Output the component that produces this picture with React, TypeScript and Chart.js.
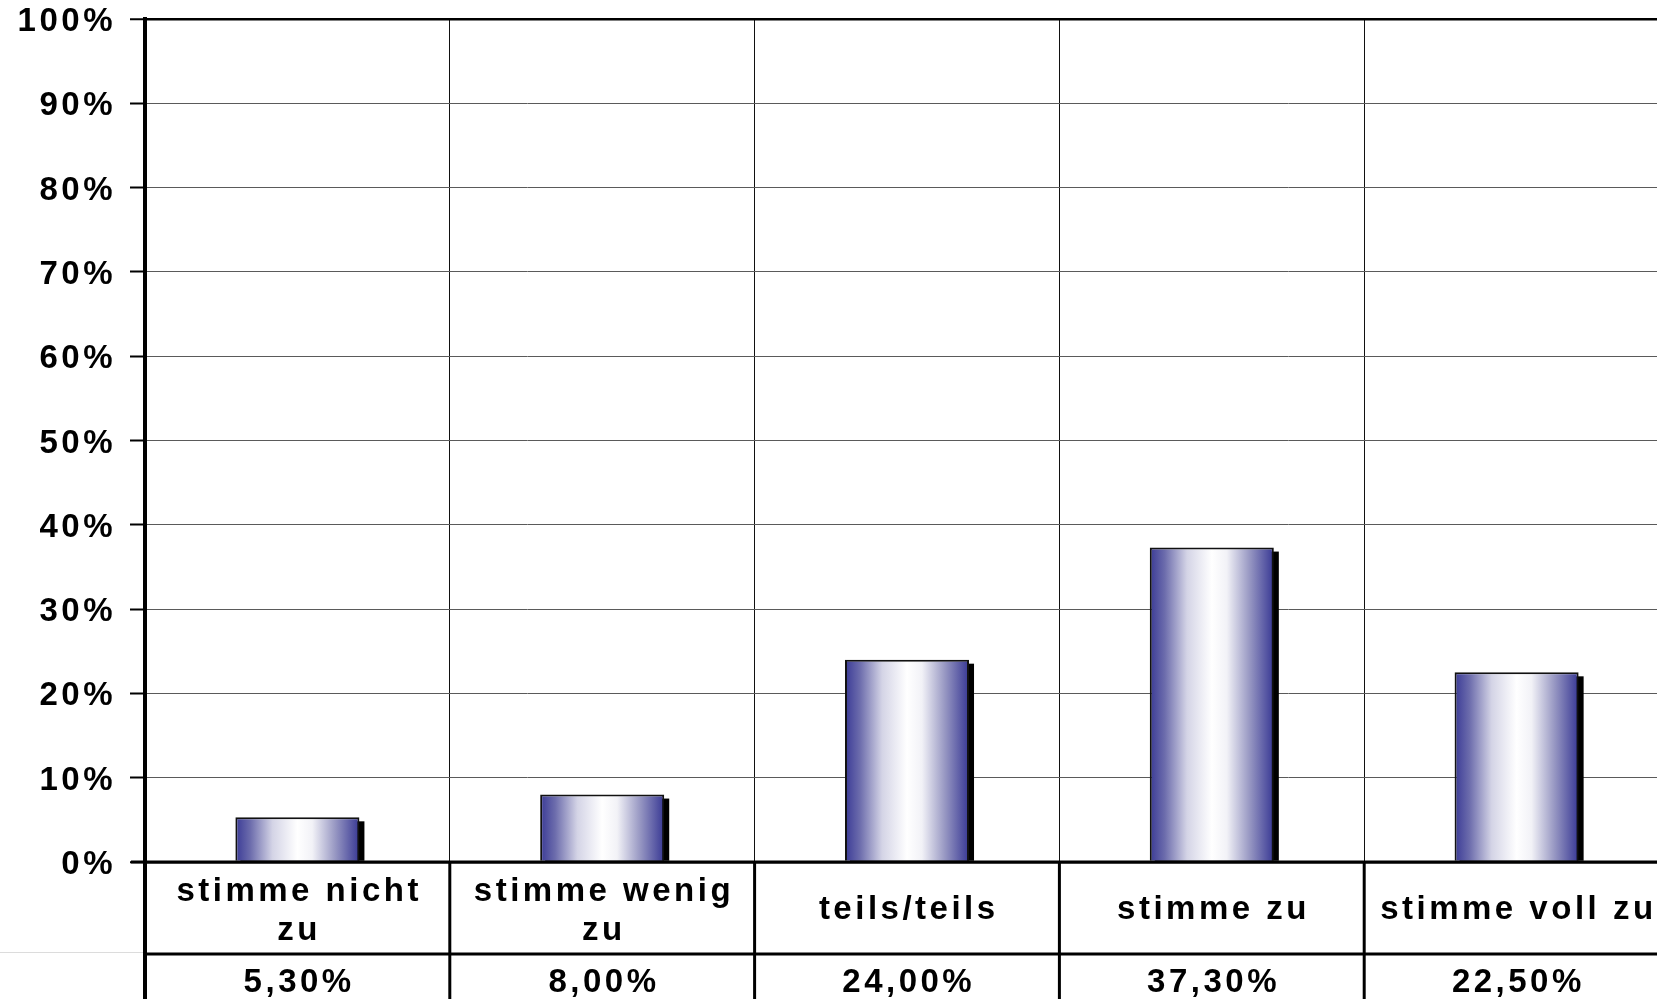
import React, { useEffect, useRef } from "react";
import { Chart, registerables } from "chart.js";

Chart.register(...registerables);

const categories: string[][] = [
  ["stimme nicht", "zu"],
  ["stimme wenig", "zu"],
  ["teils/teils"],
  ["stimme zu"],
  ["stimme voll zu"],
];
const values: number[] = [5.3, 8.0, 24.0, 37.3, 22.5];
const valueLabels: string[] = ["5,30%", "8,00%", "24,00%", "37,30%", "22,50%"];
const yMin = 0;
const yMax = 100;
const yStep = 10;

const FONT = '"Liberation Sans", Arial, sans-serif';
const FONT_SIZE = 33;
const BAR_PCT = 0.407;
const SPACING = 3.5;

export default function App() {
  const ref = useRef<HTMLCanvasElement | null>(null);

  useEffect(() => {
    const canvas = ref.current;
    if (!canvas) return;

    const shadowPlugin = {
      id: "barShadow",
      beforeDatasetsDraw(chart: any) {
        const ctx = chart.ctx;
        const meta = chart.getDatasetMeta(0);
        ctx.save();
        ctx.fillStyle = "#000";
        meta.data.forEach((el: any) => {
          const p = el.getProps(["x", "y", "base", "width"], true);
          ctx.fillRect(p.x - p.width / 2 + 5, p.y + 4, p.width, p.base - p.y - 4);
        });
        ctx.restore();
      },
    };

    const spacingPlugin = {
      id: "spacing",
      beforeDraw(chart: any) {
        (chart.ctx as any).letterSpacing = SPACING + "px";
      },
    };

    const tablePlugin = {
      id: "table",
      afterDraw(chart: any) {
        const ctx = chart.ctx;
        const area = chart.chartArea;
        const n = categories.length;
        const step = (area.right - area.left) / n;
        const H = chart.height;
        const row1 = area.bottom + 92;
        ctx.save();
        (ctx as any).letterSpacing = "0px";
        ctx.strokeStyle = "#dcdcdc";
        ctx.lineWidth = 1;
        ctx.beginPath();
        ctx.moveTo(0, row1 - 1.5);
        ctx.lineTo(area.left, row1 - 1.5);
        ctx.stroke();
        ctx.strokeStyle = "#000";
        ctx.lineWidth = 3;
        ctx.beginPath();
        ctx.moveTo(area.left - 14, area.bottom);
        ctx.lineTo(area.right, area.bottom);
        ctx.moveTo(area.left, row1);
        ctx.lineTo(area.right, row1);
        ctx.stroke();
        for (let i = 0; i <= n; i++) {
          const x = area.left + i * step;
          ctx.lineWidth = i === 0 ? 4 : 3;
          ctx.beginPath();
          ctx.moveTo(x, area.bottom);
          ctx.lineTo(x, H);
          ctx.stroke();
        }
        (ctx as any).letterSpacing = SPACING + "px";
        ctx.fillStyle = "#000";
        ctx.font = "bold " + FONT_SIZE + "px " + FONT;
        ctx.textAlign = "center";
        ctx.textBaseline = "alphabetic";
        for (let i = 0; i < n; i++) {
          const cx = chart.scales.x.getPixelForValue(i) + SPACING / 2;
          const lines = categories[i];
          if (lines.length === 2) {
            ctx.fillText(lines[0], cx, area.bottom + 39);
            ctx.fillText(lines[1], cx, area.bottom + 78);
          } else {
            ctx.fillText(lines[0], cx, area.bottom + 57);
          }
          ctx.fillText(valueLabels[i], cx, row1 + 38);
        }
        ctx.restore();
      },
    };

    const chart = new Chart(canvas, {
      type: "bar",
      data: {
        labels: categories.map((c) => c.join(" ")),
        datasets: [
          {
            data: values,
            backgroundColor: (c: any) => {
              const ch = c.chart;
              const xs = ch.scales && ch.scales.x;
              if (!xs || c.dataIndex === undefined) return "#3a3a96";
              const cx = xs.getPixelForValue(c.dataIndex);
              const w = (xs.width / categories.length) * BAR_PCT;
              if (!isFinite(cx) || !isFinite(w) || w <= 0) return "#3a3a96";
              const g = ch.ctx.createLinearGradient(cx - w / 2, 0, cx + w / 2, 0);
              g.addColorStop(0, "#3a3a96");
              g.addColorStop(0.12, "#6c6cac");
              g.addColorStop(0.3, "#d4d4e6");
              g.addColorStop(0.5, "#ffffff");
              g.addColorStop(0.62, "#f2f2f7");
              g.addColorStop(0.8, "#9a9ac4");
              g.addColorStop(1, "#383894");
              return g;
            },
            borderColor: "#111",
            borderWidth: 2,
            barPercentage: BAR_PCT,
            categoryPercentage: 1,
          },
        ],
      },
      options: {
        responsive: false,
        animation: false,
        devicePixelRatio: 1,
        layout: { padding: { top: 19, right: 0, bottom: 0, left: 0 } },
        plugins: {
          legend: { display: false },
          tooltip: { enabled: false },
        },
        scales: {
          x: {
            ticks: { display: false },
            grid: { offset: true, color: "#111", lineWidth: 1, drawTicks: false },
            border: { display: false },
            afterFit: (s: any) => {
              s.height = 137;
            },
          },
          y: {
            min: yMin,
            max: yMax,
            ticks: {
              stepSize: yStep,
              callback: (v: any) => v + "%",
              color: "#000",
              font: { family: FONT, size: FONT_SIZE, weight: "bold" },
              padding: 14,
              labelOffset: 3,
            },
            grid: {
              color: (c: any) =>
                c.tick && (c.tick.value === 100 || c.tick.value === 0) ? "#000" : "#5a5a5a",
              lineWidth: (c: any) =>
                c.tick && (c.tick.value === 100 || c.tick.value === 0) ? 2.5 : 1,
              tickColor: "#000",
              tickWidth: 2,
              tickLength: 15,
            },
            border: { color: "#000", width: 4 },
            afterFit: (s: any) => {
              s.width = 145;
              s.paddingTop = 0;
              s.paddingBottom = 0;
            },
          },
        },
      } as any,
      plugins: [spacingPlugin, shadowPlugin, tablePlugin],
    });

    return () => chart.destroy();
  }, []);

  return (
    <div
      style={{
        position: "fixed",
        left: 0,
        top: 0,
        width: 1657,
        height: 999,
        overflow: "hidden",
        background: "#fff",
      }}
    >
      <canvas
        ref={ref}
        width={1669}
        height={999}
        style={{ display: "block", width: 1669, height: 999 }}
      />
    </div>
  );
}
